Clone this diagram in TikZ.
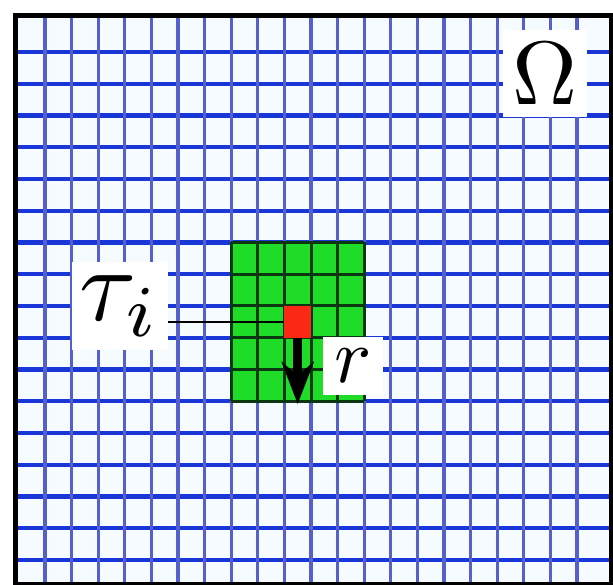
\documentclass[tikz,border=0pt]{standalone}
\usepackage{graphicx}
\usetikzlibrary{arrows.meta}
\definecolor{hblue}{RGB}{25,55,215}
\definecolor{vblue}{RGB}{85,95,205}
\definecolor{patchgreen}{RGB}{30,220,40}
\definecolor{patchline}{RGB}{10,55,15}
\definecolor{cellred}{RGB}{250,40,20}
\definecolor{bgcol}{RGB}{246,251,255}
\begin{document}
\begin{tikzpicture}[x=1pt,y=-1pt,
  hline/.style={hblue,line width=4.2pt},
  vline/.style={vblue,line width=3.2pt},
  pline/.style={patchline,line width=3pt},
  labelbox/.style={fill=white,inner sep=0pt,text=black},
  framebox/.style={black,line width=5pt}]
\useasboundingbox (0,0) rectangle (613,585);
\fill[white] (0,0) rectangle (613,585);
\fill[bgcol] (15,16) rectangle (611,584);
% grid
\foreach \k in {0,...,16} {
  \draw[hline] (15,{52+31.75*\k}) -- (611,{52+31.75*\k});
}
\foreach \k in {0,...,20} {
  \draw[vline] ({45+26.6*\k},16) -- ({45+26.6*\k},584);
}
% green patch
\fill[patchgreen] (231.2,242.5) rectangle (364.2,401.25);
\foreach \k in {6,...,11} {
  \draw[pline] (231.2,{52+31.75*\k}) -- (364.2,{52+31.75*\k});
}
\foreach \k in {7,...,12} {
  \draw[pline] ({45+26.6*\k},242.5) -- ({45+26.6*\k},401.25);
}
% red cell
\node[fill=cellred,inner sep=0pt,minimum width=27pt,minimum height=32pt] (red) at (297.7,321.9) {};
% arrow
\coordinate (arrEnd) at (297.7,404);
\draw[black,line width=9pt,-{Stealth[length=42pt,width=32pt]}] (red.south) -- (arrEnd);
% labels
\node[labelbox,minimum width=84pt,minimum height=87pt] (omega) at (545,74)
  {\scalebox{9}{$\Omega$}};
\node[labelbox,minimum width=96pt,minimum height=87pt] (tau) at (120,306)
  {\scalebox{10.4}{$\tau_i$}};
\node[labelbox,minimum width=60pt,minimum height=58pt] (r) at (353,366)
  {\scalebox{7.8}{$r$}};
% connector
\draw[black,line width=1.8pt] (tau.east |- red) -- (red.west);
% frame
\draw[framebox] (15,16) rectangle (611,584);
\end{tikzpicture}
\end{document}
